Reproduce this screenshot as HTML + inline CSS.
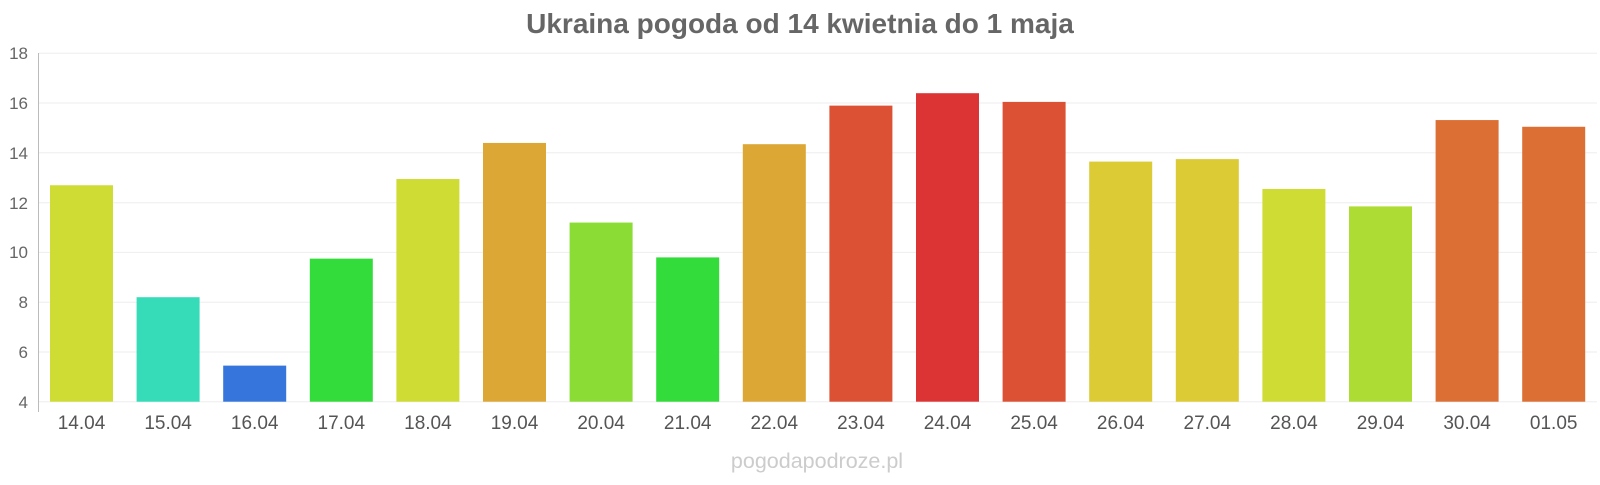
<!DOCTYPE html>
<html><head><meta charset="utf-8"><style>
body{margin:0;background:#fff;width:1600px;height:480px;overflow:hidden}
</style></head><body>
<svg width="1600" height="480" xmlns="http://www.w3.org/2000/svg" font-family="Liberation Sans, sans-serif">
<text x="800" y="33" text-anchor="middle" font-size="28" font-weight="bold" fill="#666">Ukraina pogoda od 14 kwietnia do 1 maja</text>
<g stroke="#eeeeee" stroke-width="1">
<line x1="39" x2="1597" y1="53.3" y2="53.3"/>
<line x1="39" x2="1597" y1="103" y2="103"/>
<line x1="39" x2="1597" y1="152.8" y2="152.8"/>
<line x1="39" x2="1597" y1="202.7" y2="202.7"/>
<line x1="39" x2="1597" y1="252.4" y2="252.4"/>
<line x1="39" x2="1597" y1="302.2" y2="302.2"/>
<line x1="39" x2="1597" y1="352" y2="352"/>
<line x1="39" x2="1597" y1="401.7" y2="401.7"/>
</g>
<line x1="38.5" x2="38.5" y1="53" y2="412" stroke="#bbb" stroke-width="1"/>
<g font-size="17" fill="#666" text-anchor="end">
<text x="28" y="59">18</text><text x="28" y="109">16</text><text x="28" y="159">14</text>
<text x="28" y="209">12</text><text x="28" y="258">10</text><text x="28" y="308">8</text>
<text x="28" y="358">6</text><text x="28" y="408">4</text>
</g>
<g id="bars"></g>
<g id="labels" font-size="19" fill="#555" text-anchor="middle"></g>
<text x="817" y="468" text-anchor="middle" font-size="21.5" fill="#ccc">pogodapodroze.pl</text>
<script>
var v=[12.7,8.2,5.45,9.75,12.95,14.4,11.2,9.8,14.35,15.9,16.4,16.05,13.65,13.75,12.55,11.85,15.32,15.05];
var c=["#cfdc34","#36dcb8","#3575dc","#33dc3b","#cfdc34","#dca734","#8bdc34","#33dc3b","#dca734","#dc5034","#dc3434","#dc5034","#dccb34","#dccb34","#cfdc34","#addc34","#dc6f34","#dc6f34"];
var l=["14.04","15.04","16.04","17.04","18.04","19.04","20.04","21.04","22.04","23.04","24.04","25.04","26.04","27.04","28.04","29.04","30.04","01.05"];
var ns="http://www.w3.org/2000/svg",b=document.getElementById("bars"),L=document.getElementById("labels");
for(var i=0;i<18;i++){var x=50+i*86.6,t=401.7-(v[i]-4)*24.88;
var r=document.createElementNS(ns,"rect");r.setAttribute("x",x);r.setAttribute("y",t);r.setAttribute("width",63);r.setAttribute("height",401.7-t);r.setAttribute("fill",c[i]);b.appendChild(r);
var s=document.createElementNS(ns,"text");s.setAttribute("x",x+31.5);s.setAttribute("y",429);s.textContent=l[i];L.appendChild(s);}
</script>
</svg>
</body></html>
